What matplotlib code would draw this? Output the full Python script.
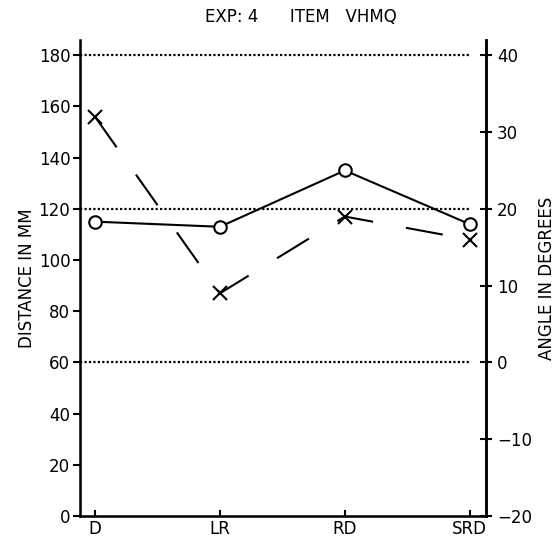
import matplotlib
matplotlib.use("Agg")
import matplotlib.pyplot as plt

# data
categories = ["D", "LR", "RD", "SRD"]
distance_mm = [115, 113, 135, 114]      # O markers, left axis
angle_deg = [32, 9, 19, 16]             # X markers, right axis
ref_levels = [180, 120, 60]             # dotted reference lines (distance scale)
dist_ticks = [0, 20, 40, 60, 80, 100, 120, 140, 160, 180]
angle_ticks = [-20, -10, 0, 10, 20, 30, 40]

plt.rcParams["font.family"] = ["DejaVu Sans"]
plt.rcParams["font.size"] = 12

fig = plt.figure(figsize=(5.58, 5.41), dpi=100)
ax = fig.add_axes([0.1434, 0.0462, 0.7276, 0.880])
x = list(range(len(categories)))

# dotted reference lines
for lvl in ref_levels:
    ax.plot([-0.12, 3.0], [lvl, lvl], color="black", lw=1.6,
            linestyle=(0, (1, 1)), zorder=1)

ax.plot(x, distance_mm, color="black", lw=1.5, marker="o", markersize=9,
        mfc="white", mec="black", mew=1.5, zorder=3)

ax.set_xlim(-0.12, 3.13)
ax.set_ylim(0, 186)
ax.set_yticks(dist_ticks)
ax.set_xticks(x)
ax.set_xticklabels(categories)
ax.tick_params(axis="x", direction="in", length=4, width=1.5, pad=3)
ax.tick_params(axis="y", direction="out", length=5, width=1.5, pad=2)
ax.set_ylabel("DISTANCE IN MM", labelpad=2)

for s in ["top"]:
    ax.spines[s].set_visible(False)
for s in ["left", "bottom", "right"]:
    ax.spines[s].set_linewidth(1.8)

ax2 = ax.twinx()
ax2.set_ylim(-20, 42)
ax2.set_yticks(angle_ticks)
ax2.plot(x, angle_deg, color="black", lw=1.5, linestyle=(0, (18, 16)),
         marker="x", markersize=10, mew=1.5, zorder=3)
ax2.tick_params(axis="y", direction="inout", length=8, width=1.5, pad=4)
ax2.spines["top"].set_visible(False)
ax2.spines["right"].set_linewidth(1.8)
ax2.set_ylabel("ANGLE IN DEGREES", labelpad=4)

fig.text(0.54, 0.968, "EXP: 4      ITEM   VHMQ", ha="center", va="center",
         fontsize=12)

fig.savefig("out.png", dpi=100)
